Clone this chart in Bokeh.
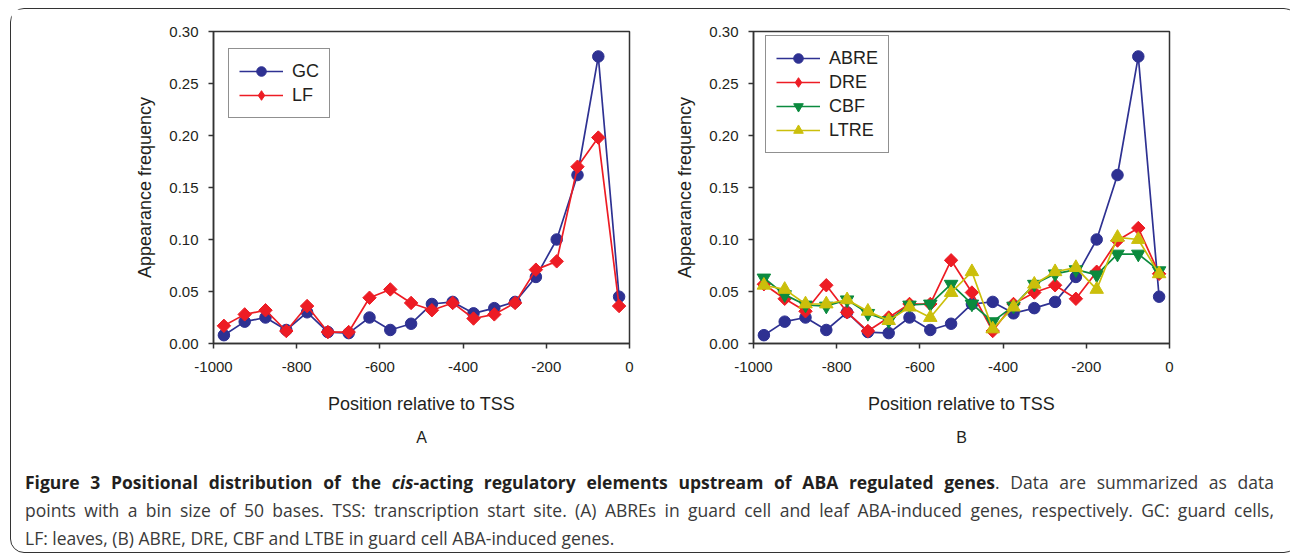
import numpy as np
from bokeh.plotting import figure
from bokeh.models import (FixedTicker, NumeralTickFormatter, Range1d, Title, Div,
                          Legend, LegendItem)
from bokeh.layouts import column, row
from bokeh.embed import file_html
from bokeh.resources import INLINE

# ---------------- data ----------------
positions = [-975, -925, -875, -825, -775, -725, -675, -625, -575, -525,
             -475, -425, -375, -325, -275, -225, -175, -125, -75, -25]

gc = [0.008, 0.021, 0.025, 0.013, 0.030, 0.011, 0.010, 0.025, 0.013, 0.019,
      0.038, 0.040, 0.029, 0.034, 0.040, 0.064, 0.100, 0.162, 0.276, 0.045]
lf = [0.017, 0.028, 0.032, 0.012, 0.036, 0.011, 0.011, 0.044, 0.052, 0.039,
      0.032, 0.039, 0.024, 0.028, 0.039, 0.071, 0.079, 0.170, 0.198, 0.036]

abre = [0.008, 0.021, 0.025, 0.013, 0.030, 0.011, 0.010, 0.025, 0.013, 0.019,
        0.038, 0.040, 0.029, 0.034, 0.040, 0.064, 0.100, 0.162, 0.276, 0.045]
dre = [0.057, 0.043, 0.031, 0.056, 0.030, 0.012, 0.025, 0.038, 0.038, 0.080,
       0.049, 0.012, 0.038, 0.049, 0.056, 0.043, 0.069, 0.099, 0.111, 0.067]
cbf = [0.063, 0.047, 0.037, 0.036, 0.042, 0.029, 0.022, 0.037, 0.038, 0.057,
       0.038, 0.021, 0.036, 0.057, 0.067, 0.071, 0.066, 0.086, 0.086, 0.070]
ltre = [0.056, 0.052, 0.038, 0.038, 0.042, 0.031, 0.022, 0.035, 0.025, 0.049,
        0.069, 0.014, 0.035, 0.057, 0.069, 0.073, 0.052, 0.102, 0.100, 0.067]

x_ticks = [-1000, -800, -600, -400, -200, 0]
y_ticks = [0.0, 0.05, 0.10, 0.15, 0.20, 0.25, 0.30]

BLUE = "#2E3192"
RED = "#ED1C24"
GREEN = "#0B8A3E"
YELLOW = "#CBBF0B"

FONT = "Liberation Sans"
TXT = "#231F20"


def make_panel(width, border_left, border_right, letter, series, legend_loc):
    p = figure(width=width, height=459, x_range=Range1d(-1000, 0), y_range=Range1d(0, 0.30),
               output_backend="svg", toolbar_location=None,
               min_border_left=border_left, min_border_right=border_right,
               min_border_top=22, min_border_bottom=125)
    p.grid.visible = False
    p.outline_line_color = "#333333"
    p.outline_line_width = 1.5
    p.background_fill_color = "white"
    p.border_fill_color = "white"

    for ax in (p.xaxis[0], p.yaxis[0]):
        ax.axis_line_color = "#333333"
        ax.axis_line_width = 1.5
        ax.major_tick_line_color = "#333333"
        ax.major_tick_line_width = 1.5
        ax.major_tick_out = 5
        ax.major_tick_in = 0
        ax.minor_tick_out = 0
        ax.minor_tick_in = 0
        ax.major_label_text_font = FONT
        ax.major_label_text_font_size = "15px"
        ax.major_label_text_color = TXT
        ax.axis_label_text_font = FONT
        ax.axis_label_text_font_size = "18px"
        ax.axis_label_text_font_style = "normal"
        ax.axis_label_text_color = TXT

    p.xaxis.ticker = FixedTicker(ticks=x_ticks)
    p.yaxis.ticker = FixedTicker(ticks=y_ticks)
    p.xaxis.formatter = NumeralTickFormatter(format="0")
    p.yaxis.formatter = NumeralTickFormatter(format="0.00")
    p.xaxis.major_label_standoff = 13
    p.yaxis.major_label_standoff = 10
    p.xaxis.axis_label = "Position relative to TSS"
    p.yaxis.axis_label = "Appearance frequency"
    p.xaxis.axis_label_standoff = 19
    p.yaxis.axis_label_standoff = 11

    items = []
    for name, vals, color, marker, size, angle, leg_marker in series:
        ln = p.line(positions, vals, line_color=color, line_width=1.7)
        sc = p.scatter(positions, vals, marker=marker, size=size, angle=angle,
                       fill_color=color, line_color=color)
        if leg_marker != marker:
            # legend-only twin of the series (hidden in the plot) so the key shows a diamond
            proxy = p.scatter(positions, vals, marker=leg_marker, size=size,
                              fill_color=color, line_color=color, visible=False)
            items.append(LegendItem(label=name, renderers=[ln, proxy]))
        else:
            items.append(LegendItem(label=name, renderers=[ln, sc]))

    lg = Legend(items=items, location=legend_loc,
                label_text_font=FONT, label_text_font_size="18px", label_text_color=TXT,
                glyph_width=44, glyph_height=24, label_height=20, label_standoff=9,
                spacing=0, padding=10, margin=0,
                border_line_color="#222222", border_line_width=1.5,
                background_fill_alpha=1.0)
    p.add_layout(lg)

    t = Title(text=letter, align="center", text_font=FONT, text_font_size="16px",
              text_font_style="normal", text_color=TXT, standoff=21)
    p.add_layout(t, "below")
    return p


pa = make_panel(650, 202, 32, "A",
                [("GC", gc, BLUE, "circle", 11.5, 0.0, "circle"),
                 ("LF", lf, RED, "square", 9.5, np.pi / 4, "diamond")],
                (15, 225))
pb = make_panel(626, 92, 118, "B",
                [("ABRE", abre, BLUE, "circle", 11.5, 0.0, "circle"),
                 ("DRE", dre, RED, "square", 9.5, np.pi / 4, "diamond"),
                 ("CBF", cbf, GREEN, "inverted_triangle", 13.5, 0.0, "inverted_triangle"),
                 ("LTRE", ltre, YELLOW, "triangle", 13.5, 0.0, "triangle")],
                (12, 190))

caption_html = (
    '<div style="font-family:\'Open Sans\',sans-serif;font-size:17.5px;line-height:27.8px;'
    'color:#3a3a3a;margin-top:-4px;padding:0 0 0 9px;width:1258px;">'
    '<div style="text-align:justify;text-align-last:justify;">'
    '<b style="color:#231F20;">Figure 3 Positional distribution of the <i>cis</i>-acting regulatory '
    'elements upstream of ABA regulated genes</b>. Data are summarized as data</div>'
    '<div style="text-align:justify;text-align-last:justify;">points with a bin size of 50 bases. '
    'TSS: transcription start site. (A) ABREs in guard cell and leaf ABA-induced genes, '
    'respectively. GC: guard cells,</div>'
    '<div>LF: leaves, (B) ABRE, DRE, CBF and LTBE in guard cell ABA-induced genes.</div>'
    '</div>'
)
caption = Div(text=caption_html, width=1276, height=74)

p = column(row(pa, pb), caption,
           styles={"border": "1px solid #333333", "border-radius": "14px",
                   "background-color": "white", "margin-top": "8px", "margin-left": "10px"})

open("out.html", "w").write(file_html(p, INLINE))
